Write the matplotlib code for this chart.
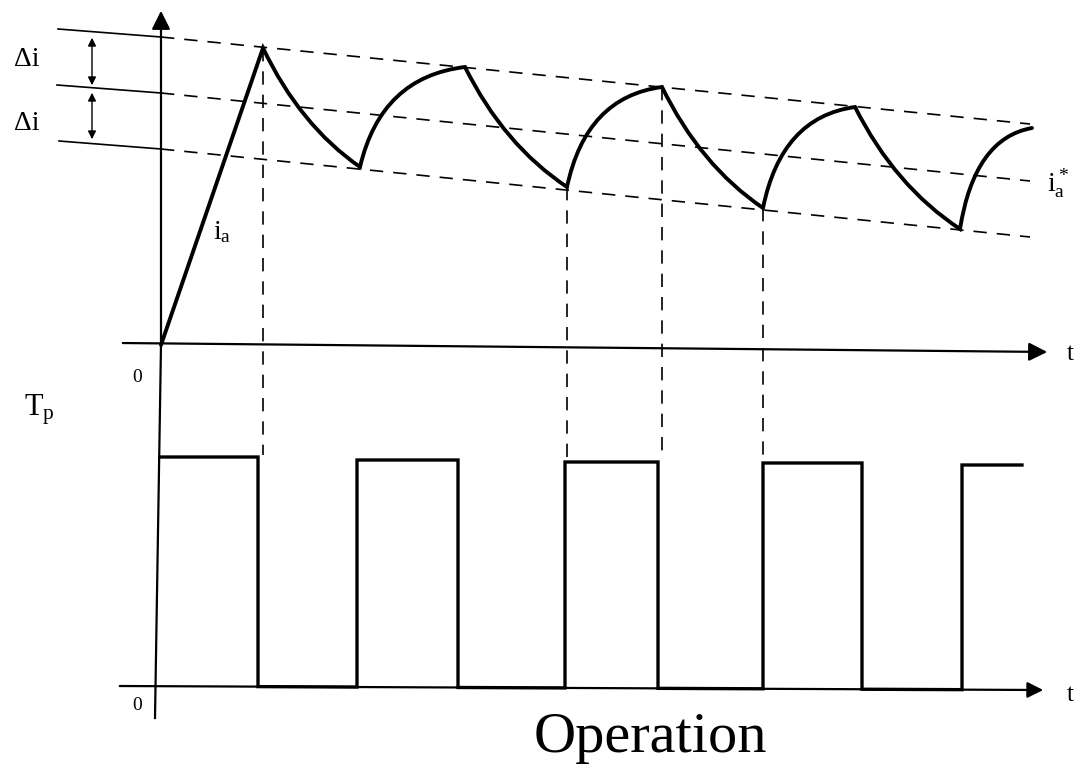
import matplotlib.pyplot as plt
from matplotlib.path import Path
from matplotlib.patches import PathPatch

# ===================== DATOS (coordenadas en pixeles del dibujo) =====================
# extremos de la corriente i_a (tiempo de conmutacion, nivel)
t_ext = [263, 360, 465, 567, 662, 763, 855, 960, 1032]
i_ext = [48, 167, 67, 187, 87, 208, 107, 229, 128]
t0, i0 = 161, 345

# bandas de histeresis: (x ini, y ini, x en eje, y en eje, x fin, y fin)
bandas = [
    (58, 29, 161, 37, 1030, 124),
    (57, 85, 161, 93, 1030, 181),
    (59, 141, 161, 149, 1030, 237),
]

# lineas verticales punteadas (x, y arriba, y abajo)
guias_x = [263, 567, 662, 763]
guias_top = [48, 187, 87, 208]
guias_bot = [455, 460, 460, 462]

# pulsos T_p
flancos = [258, 357, 458, 565, 658, 763, 862, 962]
nivel_alto = [457, 460, 462, 463, 465]
fin_pulso = 1022
nivel_bajo_izq, nivel_bajo_der = 686, 690

# ===================== FIGURA =====================
fig = plt.figure(figsize=(10.76, 7.71), dpi=100)
ax = fig.add_axes([0, 0, 1, 1])
ax.set_xlim(0, 1076)
ax.set_ylim(771, 0)
ax.axis('off')

k = 'black'
serif = ['Liberation Serif', 'DejaVu Serif']

def y_bajo(x):
    return nivel_bajo_izq + (nivel_bajo_der - nivel_bajo_izq) * (x - 117) / (1040 - 117)

# ejes
ax.plot([161, 155], [345, 718], color=k, lw=1.6)
ax.annotate('', xy=(161, 8), xytext=(161, 346),
            arrowprops=dict(arrowstyle='-|>', lw=1.6, color=k, mutation_scale=28))
ax.annotate('', xy=(1050, 352), xytext=(120, 343),
            arrowprops=dict(arrowstyle='-|>', lw=1.6, color=k, mutation_scale=28))
ax.annotate('', xy=(1046, y_bajo(1046)), xytext=(117, y_bajo(117)),
            arrowprops=dict(arrowstyle='-|>', lw=1.6, color=k, mutation_scale=24))

# bandas
for x1, y1, x2, y2, x3, y3 in bandas:
    ax.plot([x1, x2], [y1, y2], color=k, lw=1.2)
    ax.plot([x2, x3], [y2, y3], color=k, lw=1.2, dashes=(8, 6))

# flechas delta i
ax.annotate('', xy=(92, 35), xytext=(92, 88),
            arrowprops=dict(arrowstyle='<|-|>', lw=1.0, color=k, mutation_scale=12))
ax.annotate('', xy=(92, 90), xytext=(92, 142),
            arrowprops=dict(arrowstyle='<|-|>', lw=1.0, color=k, mutation_scale=12))
ax.text(14, 60, 'Δi', fontsize=20, family=serif, va='center', ha='left')
ax.text(14, 124, 'Δi', fontsize=20, family=serif, va='center', ha='left')

# corriente i_a
verts = [(t0, i0), (t_ext[0], i_ext[0])]
codes = [Path.MOVETO, Path.LINETO]
for j in range(len(t_ext) - 1):
    xa, ya = t_ext[j], i_ext[j]
    xb, yb = t_ext[j + 1], i_ext[j + 1]
    if yb > ya:   # bajada
        c = (xa + 0.38 * (xb - xa), ya + 0.65 * (yb - ya))
    else:         # subida
        c = (xa + 0.2 * (xb - xa), ya + 0.9 * (yb - ya))
    verts += [c, (xb, yb)]
    codes += [Path.CURVE3, Path.CURVE3]
ax.add_patch(PathPatch(Path(verts, codes), fill=False, lw=2.8, ec=k,
                       capstyle='round', joinstyle='miter'))

# guias verticales
for x, a, b in zip(guias_x, guias_top, guias_bot):
    ax.plot([x, x], [a, b], color=k, lw=1.2, dashes=(8, 6))

# pulsos
px = [160]
py = [nivel_alto[0]]
for n, f in enumerate(flancos):
    if n % 2 == 0:
        h = nivel_alto[n // 2]
        px += [f, f]
        py += [h, y_bajo(f)]
    else:
        h = nivel_alto[n // 2 + 1]
        px += [f, f]
        py += [y_bajo(f), h]
px.append(fin_pulso)
py.append(nivel_alto[-1])
ax.plot(px, py, color=k, lw=2.4, solid_joinstyle='miter')

# textos
ax.text(213, 232, r'$\mathregular{i_a}$', fontsize=20, family=serif, ha='left', va='center')
ax.text(1047, 183, r'$\mathregular{i_a^*}$', fontsize=20, family=serif, ha='left', va='center')
ax.text(137, 378, '0', fontsize=14, family=serif, ha='center', va='center')
ax.text(137, 705, '0', fontsize=14, family=serif, ha='center', va='center')
ax.text(1070, 354, 't', fontsize=18, family=serif, ha='center', va='center')
ax.text(1070, 695, 't', fontsize=18, family=serif, ha='center', va='center')
ax.text(24, 410, r'$\mathregular{T_p}$', fontsize=22, family=serif, ha='left', va='center')
ax.text(650, 738, 'Operation', fontsize=42, family=serif, ha='center', va='center')

fig.savefig('out.png', dpi=100)
